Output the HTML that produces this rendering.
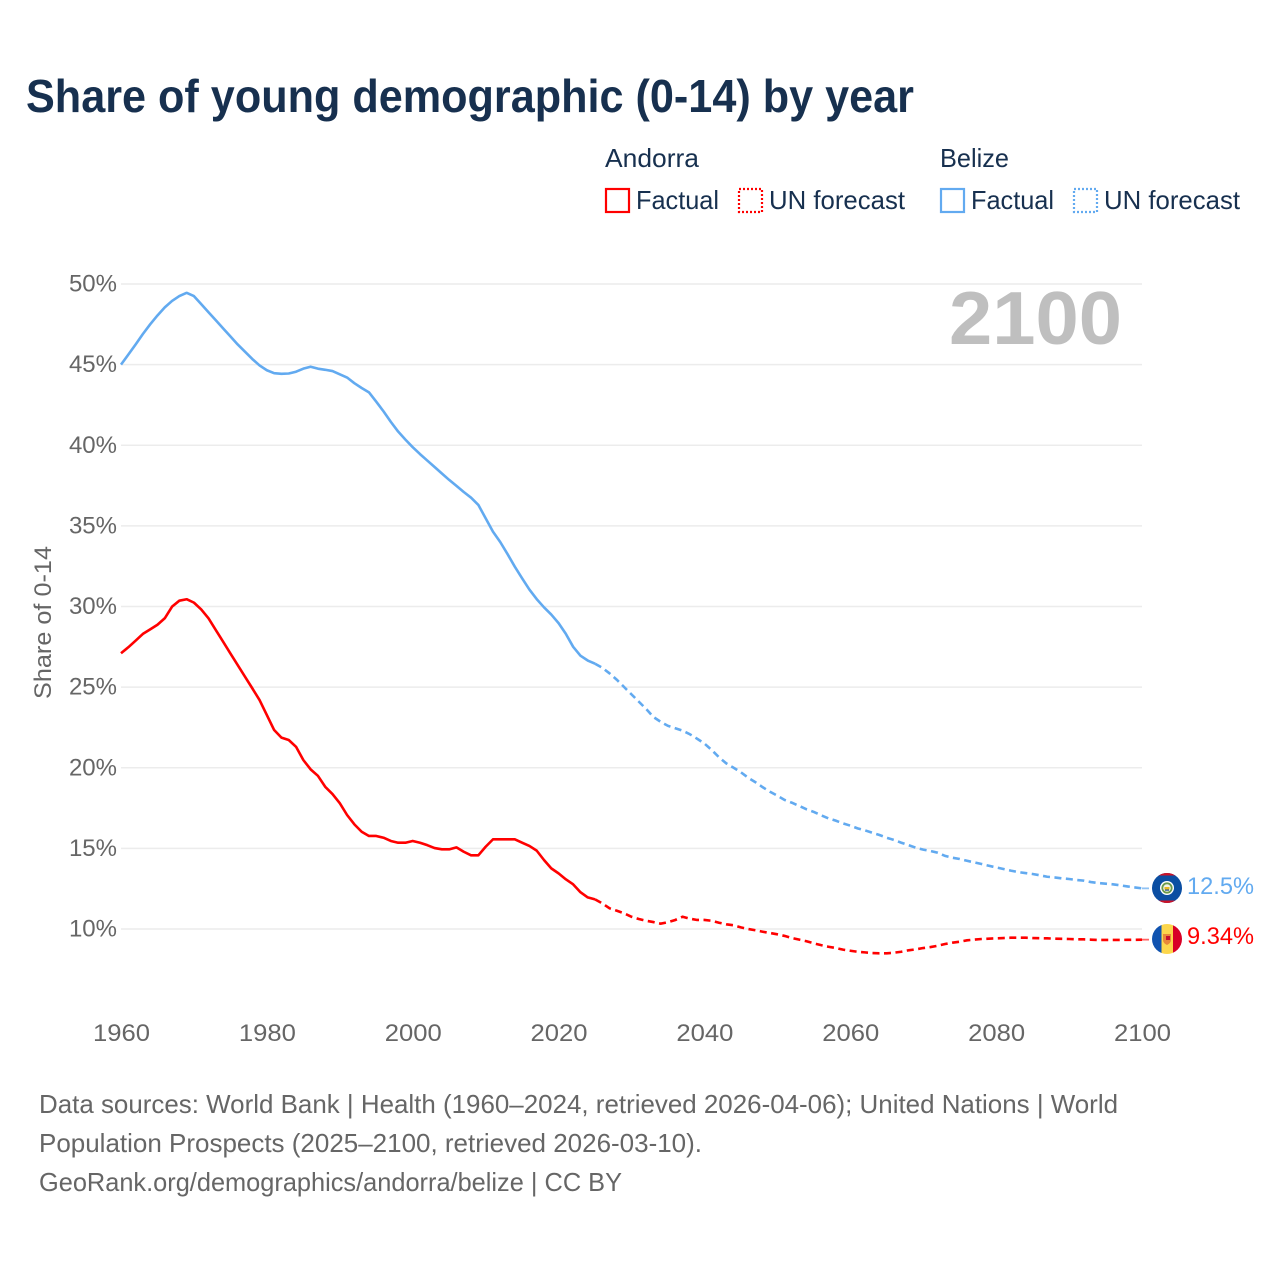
<!DOCTYPE html>
<html lang="en">
<head>
<meta charset="utf-8">
<title>Share of young demographic (0-14) by year</title>
<style>
  html, body { margin: 0; padding: 0; background: #ffffff; }
  body { width: 1280px; height: 1280px; overflow: hidden; }
  svg { display: block; font-family: "Liberation Sans", sans-serif; }
</style>
</head>
<body>
<svg id="chart" xmlns="http://www.w3.org/2000/svg" width="1280" height="1280" viewBox="0 0 1280 1280">
  <defs>
    <clipPath id="flag-clip-bz"><circle cx="1167" cy="888" r="15"/></clipPath>
    <clipPath id="flag-clip-ad"><circle cx="1167" cy="939" r="15"/></clipPath>
  </defs>

  <text x="26" y="112" font-size="46" font-weight="700" fill="#17304f" textLength="888" lengthAdjust="spacingAndGlyphs">Share of young demographic (0-14) by year</text>

  <g font-size="26" fill="#17304f">
    <text x="605" y="167" textLength="94" lengthAdjust="spacingAndGlyphs">Andorra</text>
    <rect x="606" y="189" width="23" height="23" fill="none" stroke="#ff0000" stroke-width="2.2"/>
    <text x="636" y="209" textLength="83" lengthAdjust="spacingAndGlyphs">Factual</text>
    <rect x="739" y="189" width="23" height="23" fill="none" stroke="#ff0000" stroke-width="2.2" stroke-dasharray="2 2"/>
    <text x="769" y="209" textLength="136" lengthAdjust="spacingAndGlyphs">UN forecast</text>

    <text x="940" y="167" textLength="69" lengthAdjust="spacingAndGlyphs">Belize</text>
    <rect x="941" y="189" width="23" height="23" fill="none" stroke="#62aaf0" stroke-width="2.2"/>
    <text x="971" y="209" textLength="83" lengthAdjust="spacingAndGlyphs">Factual</text>
    <rect x="1074" y="189" width="23" height="23" fill="none" stroke="#62aaf0" stroke-width="2.2" stroke-dasharray="2 2"/>
    <text x="1104" y="209" textLength="136" lengthAdjust="spacingAndGlyphs">UN forecast</text>
  </g>

  <g id="grid"></g>

  <text x="949" y="344" font-size="75" font-weight="700" fill="#bfbfbf" textLength="173" lengthAdjust="spacingAndGlyphs">2100</text>

  <g id="y-ticks" font-size="24" fill="#666666" text-anchor="end"></g>
  <g id="x-ticks" font-size="24" fill="#666666" text-anchor="middle"></g>
  <text transform="translate(51 622.5) rotate(-90)" font-size="24" fill="#666666" text-anchor="middle" textLength="153" lengthAdjust="spacingAndGlyphs">Share of 0-14</text>

  <g id="series"></g>

  <g clip-path="url(#flag-clip-bz)">
    <rect x="1152" y="873" width="30" height="30" fill="#0b4ea2"/>
    <rect x="1152" y="873" width="30" height="2.5" fill="#ce1126"/>
    <rect x="1152" y="900.5" width="30" height="2.5" fill="#ce1126"/>
    <circle cx="1167" cy="888" r="7" fill="#ffffff"/>
    <circle cx="1167" cy="888" r="5.6" fill="#6a9a4b"/>
    <circle cx="1167" cy="888" r="3.8" fill="#f2f2e6"/>
    <rect x="1164.5" y="887" width="5" height="2.5" fill="#e8b923"/>
    <rect x="1165" y="889.5" width="4" height="1.2" fill="#1d4f91"/>
  </g>
  <g clip-path="url(#flag-clip-ad)">
    <rect x="1152" y="924" width="9.5" height="30" fill="#1053b0"/>
    <rect x="1161.5" y="924" width="11.5" height="30" fill="#fcd64c"/>
    <rect x="1173" y="924" width="9" height="30" fill="#d80027"/>
    <path d="M1163 934 h8 v6 q0 3 -4 5 q-4 -2 -4 -5 z" fill="#e8883a"/>
    <rect x="1166" y="936" width="4" height="4" fill="#c8102e"/>
  </g>

  <text x="1187" y="894" font-size="24" fill="#62aaf0" textLength="67" lengthAdjust="spacingAndGlyphs">12.5%</text>
  <text x="1187" y="944" font-size="24" fill="#ff0000" textLength="67" lengthAdjust="spacingAndGlyphs">9.34%</text>

  <g font-size="26" fill="#666666">
    <text x="39" y="1113" textLength="1079" lengthAdjust="spacingAndGlyphs">Data sources: World Bank | Health (1960–2024, retrieved 2026-04-06); United Nations | World</text>
    <text x="39" y="1152" textLength="663" lengthAdjust="spacingAndGlyphs">Population Prospects (2025–2100, retrieved 2026-03-10).</text>
    <text x="39" y="1191" textLength="583" lengthAdjust="spacingAndGlyphs">GeoRank.org/demographics/andorra/belize | CC BY</text>
  </g>
</svg>

<script>
const xTickLabels = [1960, 1980, 2000, 2020, 2040, 2060, 2080, 2100];
const yTickLabels = [10, 15, 20, 25, 30, 35, 40, 45, 50];

const factualYears = [1960,1961,1962,1963,1964,1965,1966,1967,1968,1969,
  1970,1971,1972,1973,1974,1975,1976,1977,1978,1979,
  1980,1981,1982,1983,1984,1985,1986,1987,1988,1989,
  1990,1991,1992,1993,1994,1995,1996,1997,1998,1999,
  2000,2001,2002,2003,2004,2005,2006,2007,2008,2009,
  2010,2011,2012,2013,2014,2015,2016,2017,2018,2019,
  2020,2021,2022,2023,2024,2025];

const forecastYears = [2025,2026,2027,2028,2029,
  2030,2031,2032,2033,2034,2035,2036,2037,2038,2039,
  2040,2041,2042,2043,2044,2045,2046,2047,2048,2049,
  2050,2051,2052,2053,2054,2055,2056,2057,2058,2059,
  2060,2061,2062,2063,2064,2065,2066,2067,2068,2069,
  2070,2071,2072,2073,2074,2075,2076,2077,2078,2079,
  2080,2081,2082,2083,2084,2085,2086,2087,2088,2089,
  2090,2091,2092,2093,2094,2095,2096,2097,2098,2099,2100];

const andorraFactual = [27.1,27.47,27.88,28.3,28.58,28.87,29.27,29.99,30.36,30.45,
  30.24,29.82,29.27,28.54,27.82,27.09,26.37,25.65,24.93,24.2,
  23.27,22.34,21.87,21.72,21.3,20.48,19.9,19.5,18.82,18.37,
  17.8,17.07,16.49,16.03,15.77,15.77,15.66,15.46,15.35,15.35,
  15.46,15.35,15.2,15.02,14.94,14.94,15.06,14.79,14.57,14.57,
  15.1,15.56,15.56,15.56,15.56,15.35,15.15,14.86,14.28,13.76,
  13.45,13.08,12.77,12.28,11.96,11.84];

const andorraForecast = [11.84,11.59,11.28,11.13,10.97,
  10.76,10.62,10.51,10.43,10.33,10.42,10.56,10.76,10.64,10.56,
  10.56,10.51,10.39,10.29,10.23,10.1,10.0,9.92,9.83,9.75,
  9.67,9.57,9.44,9.34,9.24,9.11,9.0,8.9,8.82,8.72,
  8.65,8.59,8.55,8.51,8.49,8.49,8.53,8.59,8.68,8.74,
  8.82,8.88,8.96,9.07,9.15,9.21,9.3,9.34,9.38,9.4,
  9.42,9.44,9.46,9.46,9.46,9.44,9.43,9.42,9.4,9.39,
  9.38,9.36,9.36,9.34,9.32,9.32,9.32,9.32,9.33,9.33,9.34];

const belizeFactual = [45.0,45.62,46.25,46.9,47.5,48.05,48.55,48.95,49.25,49.45,
  49.25,48.75,48.25,47.75,47.25,46.75,46.25,45.8,45.35,44.95,
  44.65,44.47,44.43,44.45,44.56,44.75,44.87,44.75,44.68,44.6,
  44.4,44.2,43.85,43.55,43.28,42.7,42.1,41.45,40.85,40.35,
  39.88,39.45,39.05,38.65,38.25,37.85,37.48,37.1,36.75,36.3,
  35.47,34.64,34.0,33.25,32.47,31.75,31.05,30.46,29.95,29.5,
  28.97,28.3,27.5,26.95,26.65,26.45];

const belizeForecast = [26.45,26.2,25.85,25.45,25.0,
  24.55,24.1,23.65,23.15,22.85,22.6,22.45,22.3,22.08,21.8,
  21.5,21.1,20.65,20.27,20.0,19.72,19.38,19.1,18.79,18.51,
  18.27,18.0,17.83,17.63,17.42,17.26,17.05,16.86,16.72,16.55,
  16.41,16.24,16.12,15.97,15.83,15.66,15.52,15.35,15.2,15.04,
  14.92,14.84,14.73,14.53,14.42,14.34,14.23,14.13,14.03,13.92,
  13.82,13.72,13.62,13.53,13.47,13.41,13.33,13.24,13.2,13.14,
  13.1,13.04,13.0,12.91,12.85,12.81,12.77,12.71,12.64,12.58,12.52];

const SVG_NS = 'http://www.w3.org/2000/svg';
const PLOT_LEFT = 121;
const PLOT_RIGHT = 1142;
const RED = '#ff0000';
const BLUE = '#62aaf0';

function xScale(year) {
  return PLOT_LEFT + (year - 1960) * (PLOT_RIGHT - PLOT_LEFT) / 140;
}
function yScale(pct) {
  return 929 - (pct - 10) * 16.125;
}
function linePath(years, values) {
  return years.map(function (yr, i) {
    return (i ? 'L' : 'M') + xScale(yr).toFixed(2) + ' ' + yScale(values[i]).toFixed(2);
  }).join(' ');
}
function make(tag, parent, attrs, text) {
  const el = document.createElementNS(SVG_NS, tag);
  Object.keys(attrs).forEach(function (k) { el.setAttribute(k, attrs[k]); });
  if (text !== undefined) el.textContent = text;
  parent.appendChild(el);
  return el;
}

const gridGroup = document.getElementById('grid');
const yTickGroup = document.getElementById('y-ticks');
const xTickGroup = document.getElementById('x-ticks');
const seriesGroup = document.getElementById('series');

yTickLabels.forEach(function (v) {
  const g = make('line', gridGroup, { x1: PLOT_LEFT, x2: PLOT_RIGHT, y1: yScale(v), y2: yScale(v), stroke: '#ececec', 'stroke-width': 1.5 });
  
  
  const t = make('text', yTickGroup, { x: 117, y: yScale(v) + 7.5 }, v + '%');
  
  
});

xTickLabels.forEach(function (yr) {
  const t = make('text', xTickGroup, { x: xScale(yr) + 0.5, y: 1041, textLength: 57, lengthAdjust: 'spacingAndGlyphs' }, String(yr));
  
  
});

const leaderBelize = make('line', seriesGroup, {
  x1: xScale(2100), x2: xScale(2100) + 10,
  y1: yScale(belizeForecast[belizeForecast.length - 1]), y2: yScale(belizeForecast[belizeForecast.length - 1]),
  stroke: BLUE, 'stroke-width': 1.8, 'stroke-dasharray': '7 3', opacity: 0.7
});



const leaderAndorra = make('line', seriesGroup, {
  x1: xScale(2100), x2: xScale(2100) + 10,
  y1: yScale(andorraForecast[andorraForecast.length - 1]), y2: yScale(andorraForecast[andorraForecast.length - 1]),
  stroke: RED, 'stroke-width': 1.8, 'stroke-dasharray': '7 3', opacity: 0.6
});



const belizeFactualLine = make('path', seriesGroup, { d: linePath(factualYears, belizeFactual), fill: 'none', stroke: BLUE, 'stroke-width': 2.6, 'stroke-linejoin': 'round' });



const belizeForecastLine = make('path', seriesGroup, { d: linePath(forecastYears, belizeForecast), fill: 'none', stroke: BLUE, 'stroke-width': 2.6, 'stroke-dasharray': '7 4.5' });



const andorraFactualLine = make('path', seriesGroup, { d: linePath(factualYears, andorraFactual), fill: 'none', stroke: RED, 'stroke-width': 2.6, 'stroke-linejoin': 'round' });



const andorraForecastLine = make('path', seriesGroup, { d: linePath(forecastYears, andorraForecast), fill: 'none', stroke: RED, 'stroke-width': 2.6, 'stroke-dasharray': '7 4.5' });


</script>
</body>
</html>
